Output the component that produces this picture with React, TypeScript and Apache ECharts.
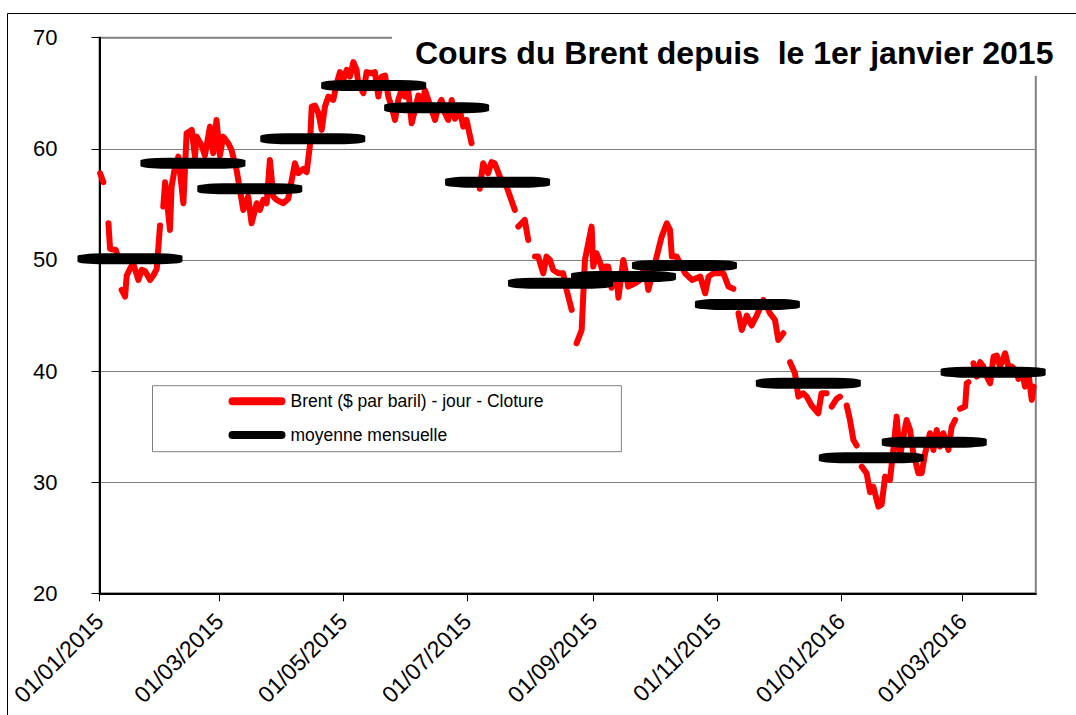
import React, { useEffect, useRef } from "react";
import * as echarts from "echarts";

// ---- data ----
const tickLabels = [
  "01/01/2015", "01/03/2015", "01/05/2015", "01/07/2015",
  "01/09/2015", "01/11/2015", "01/01/2016", "01/03/2016",
];
const axisEndDate = "2016-04-06";

const monthDates = [
  "2015-01-16", "2015-02-16", "2015-03-16", "2015-04-16", "2015-05-16",
  "2015-06-16", "2015-07-16", "2015-08-16", "2015-09-16", "2015-10-16",
  "2015-11-16", "2015-12-16", "2016-01-16", "2016-02-16", "2016-03-16",
];
const monthAvg = [50.1, 58.7, 56.4, 60.9, 65.7, 63.7, 57.0, 47.9, 48.5, 49.5, 46.0, 38.9, 32.2, 33.6, 39.9];

// days since 01/01/2015 and daily closing price (null = gap in the line)
const brentDays = [
  0.3, 1.9, 3, 4.4, 5.2, 8.0, 9.0, 10, 10.9, 12.6, 13.4, 15.0, 16.6, 19.1, 20.8, 22.4, 24.9, 26.5, 28.2, 29.8,
  30.6, 31.4, 32.3, 34.7, 35.5, 37.2, 38.8, 41.3, 42.9, 45.4, 47.0, 47.8, 50.3, 51.9, 54.4, 56.0, 57.6, 59.3,
  60.9, 63.4, 65.0, 67.5, 70.8, 73.2, 74.9, 77.4, 79.0, 80.6, 82.3, 83.9, 85.6, 87.2, 90.5, 92.9, 96.2, 97.9,
  100.4, 102.0, 103.6, 104.5, 106.1, 107.8, 109.4, 111.0, 112.7, 115.1, 116.8, 118.4, 120.0, 121.7, 123.3,
  125.0, 126.6, 127.4, 129.9, 131.5, 134.0, 135.6, 137.3, 138.9, 140.6, 142.2, 143.8, 145.5, 147.1, 148.7,
  150.4, 152.0, 153.7, 155.3, 157.0, 158.6, 160.2, 161.9, 163.5, 165.2, 166.8, 168.4, 170.1, 171.7, 173.4,
  175.0, 177.4, 179.1, 180.7, 183.2, 185, 187.2, 188.9, 191.3, 193.0, 194.6, 197.1, 200.4, 204.5, 205.3,
  206.2, 209.4, 211.1, 213, 214.4, 216.0, 218.5, 220.1, 221.8, 223.4, 225.9, 228.3, 230.0, 232.5, 233.7,
  234.9, 237.4, 239.0, 242.3, 243.1, 244.7, 246.4, 248.0, 248.9, 250.5, 252.1, 254.6, 255.5, 257.9, 259.6,
  260.3, 263.7, 266.1, 268.6, 270.2, 271.9, 273.5, 276.8, 279.3, 280.9, 281.8, 284.2, 288.3, 291.7, 295.8,
  298.2, 299.9, 302.3, 307.2, 309.7, 312.1, 313.4, 314.6, 316.2, 318.7, 321.1, 323.6, 326.9, 330.1, 332.6,
  334.2, 336.7, 338.4, 340.0, 342.4, 344.1, 346.5, 348.2, 350.6, 353.9, 355.5, 358.0, 359.3, 360.5, 362.9,
  364.6, 366, 367.9, 369.5, 371.2, 372.8, 374, 375.3, 377.7, 379.4, 381.0, 383.5, 385.1, 386.8, 389.2,
  390.9, 392.5, 394.1, 395.8, 397.4, 399.1, 400.7, 403.2, 404.8, 406.5, 408.9, 410.6, 412.2, 413.9, 415.5,
  418.0, 419.6, 421.3, 422.5, 423.7, 426.2, 427.0, 427.8, 429, 430.3, 431.9, 433.6, 435.2, 436.9, 438.5,
  440.2, 441.8, 443.4, 445.9, 447.5, 449.2, 450.8, 452.5, 454.1, 455.7, 457.4, 459.0, 459.9,
];
const brentClose = [
  57.8, 57.0, null, 53.3, 51.0, 50.9, 50.3, null, 47.3, 46.7, 48.6, 49.2, 49.7, 48.2, 49.1, 49.0, 48.2, 48.6, 49.2, 53.1,
  null, 54.8, 57.0, 52.7, 56.6, 58.4, 59.3, 55.1, 61.4, 61.7, 59.3, 61.1, 60.3, 59.4, 62.0, 59.6, 62.6, 59.4,
  61.1, 60.5, 59.9, 58.1, 54.5, 55.7, 53.3, 55.1, 54.5, 55.4, 55.1, 59.0, 55.7, 55.4, 55.1, 55.5, 58.7, 57.8,
  58.2, 57.9, 60.3, 63.8, 63.9, 63.2, 61.7, 63.8, 64.7, 64.4, 65.9, 66.9, 66.2, 67.1, 66.5,
  67.8, 67.1, 65.9, 65.0, 66.9, 66.8, 66.9, 64.7, 66.5, 66.6, 64.7, 63.8, 62.6, 64.4, 65.3,
  64.7, 65.3, 62.3, 63.5, 64.8, 63.5, 65.3, 64.4, 63.5, 62.6, 63.8, 64.4, 63.2, 62.6, 64.4,
  62.7, 63.5, 62.0, 62.6, 60.5, null, 56.4, 58.7, 57.8, 58.8, 58.7, 57.5, 56.6, 54.5, null,
  53.0, 53.6, 51.8, null, 50.3, 50.3, 48.8, 50.3, 50.0, 49.1, 48.8, 48.8, 47.3, 45.5, null,
  42.5, 43.7, 50.0, 53.0, 49.4, 50.6, 49.8, 48.8, 49.4, 49.4, 47.5, 48.5, 46.6, 50.0, 48.5,
  47.6, 47.9, 48.2, 49.4, 47.3, 48.5, 49.7, 52.1, 53.3, 52.7, 50.3, 50.3, 48.8, 48.2, 48.5,
  47.0, 48.5, 48.8, 48.8, 47.6, 47.4, null, 45.2, 43.7, 45.0, 44.1, 45.0, 46.4, 45.2, 44.6,
  42.8, 43.4, null, 40.8, 39.8, 37.7, 38.0, 37.7, 36.9, 36.2, 38.0, 38.0, null, 36.8, 37.5,
  37.7, null, 36.9, 35.6, 33.8, 33.3, null, 31.4, 30.8, 29.1, 29.6, 27.8, 28.0, 30.5, 30.2,
  33.0, 35.9, 32.2, 34.1, 35.6, 34.7, 32.6, 30.8, 30.8, 32.6, 34.4, 32.9, 34.7, 33.2, 34.4,
  32.9, 35.0, 35.6, null, 36.6, 36.8, 38.9, 39.0, null, 40.7, 39.5, 40.8, 40.4, 39.5, 38.9,
  41.3, 41.4, 40.4, 41.6, 40.4, 40.4, 40.1, 39.3, 40.1, 38.6, 39.8, 37.4, 38.6,
];

const titleText = "Cours du Brent depuis  le 1er janvier 2015";
const seriesNames = ["Brent ($ par baril) - jour - Cloture", "moyenne mensuelle"];

// ---- helpers ----
const DAY0 = Date.UTC(2015, 0, 1);
const MS_DAY = 86400000;
const dayOfISO = (s: string) => {
  const [y, m, d] = s.split("-").map(Number);
  return (Date.UTC(y, m - 1, d) - DAY0) / MS_DAY;
};
const dayOfFr = (s: string) => {
  const [d, m, y] = s.split("/").map(Number);
  return (Date.UTC(y, m - 1, d) - DAY0) / MS_DAY;
};

const tickDays = tickLabels.map(dayOfFr);
const monthDays = monthDates.map(dayOfISO);
const xMax = dayOfISO(axisEndDate);

const SANS = "'Liberation Sans', Arial, sans-serif";

const pill = (w: number, h: number) => {
  const r = h / 2;
  return `path://M${r},0 L${w - r},0 A${r},${r} 0 0 1 ${w - r},${h} L${r},${h} A${r},${r} 0 0 1 ${r},0 Z`;
};

export default function App() {
  const ref = useRef<HTMLDivElement>(null);

  useEffect(() => {
    document.body.style.margin = "0";
    if (!ref.current) return;
    const chart = echarts.init(ref.current, null, { renderer: "svg" });

    const option: any = {
      animation: false,
      backgroundColor: "#ffffff",
      grid: {
        left: 99.5,
        top: 37.7,
        right: 40.2,
        bottom: 121.7,
        show: true,
        borderColor: "#808080",
        borderWidth: 2,
        backgroundColor: "transparent",
      },
      xAxis: {
        type: "value",
        min: 0,
        max: xMax,
        axisLine: { show: true, lineStyle: { color: "#000", width: 2 } },
        axisTick: { show: true, length: 8, customValues: tickDays, lineStyle: { color: "#000", width: 1 } },
        axisLabel: {
          customValues: tickDays,
          rotate: 45,
          margin: 24,
          fontSize: 23,
          fontFamily: SANS,
          color: "#000",
          formatter: (v: number) => {
            const i = tickDays.indexOf(v);
            return i >= 0 ? tickLabels[i] : "";
          },
        },
        splitLine: { show: false },
      },
      yAxis: {
        type: "value",
        min: 20,
        max: 70,
        interval: 10,
        axisLine: { show: true, lineStyle: { color: "#000", width: 2 } },
        axisTick: { show: true, length: 8, lineStyle: { color: "#000", width: 1 } },
        axisLabel: { margin: 42, fontSize: 22, fontFamily: SANS, color: "#000" },
        splitLine: { show: true, lineStyle: { color: "#808080", width: 1 } },
      },
      legend: {
        orient: "vertical",
        left: 152.5,
        top: 385.7,
        padding: [6.5, 78, 7.7, 76],
        borderColor: "#808080",
        borderWidth: 1,
        backgroundColor: "#ffffff",
        itemGap: 15.8,
        itemWidth: 57,
        itemHeight: 8,
        textStyle: { fontSize: 17.5, fontFamily: SANS, color: "#000" },
        data: [
          { name: seriesNames[0], icon: pill(57, 8), itemStyle: { color: "#ff0000", opacity: 1 } },
          { name: seriesNames[1], icon: pill(57, 8), itemStyle: { color: "#000000", opacity: 1 } },
        ],
      },
      series: [
        {
          name: seriesNames[0],
          type: "line",
          data: brentDays.map((d, i) => [d, brentClose[i] == null ? "-" : brentClose[i]]),
          showSymbol: false,
          symbol: "none",
          connectNulls: false,
          lineStyle: { color: "#ff0000", width: 6, cap: "round", join: "round" },
          itemStyle: { color: "#ff0000" },
          z: 3,
        },
        {
          name: seriesNames[1],
          type: "scatter",
          data: monthDays.map((d, i) => [d, monthAvg[i]]),
          symbol: "roundRect",
          symbolSize: [105, 11],
          itemStyle: { color: "#000000", opacity: 1 },
          clip: false,
          z: 4,
        },
      ],
      graphic: [
        {
          type: "rect",
          z: 0,
          silent: true,
          shape: { x: 7.5, y: 13.5, width: 1100, height: 800 },
          style: { fill: "none", stroke: "#000", lineWidth: 1 },
        },
        {
          type: "rect",
          z: 50,
          silent: true,
          shape: { x: 392, y: 15, width: 675, height: 61 },
          style: { fill: "#ffffff", stroke: "none" },
        },
        {
          type: "text",
          z: 51,
          x: 415,
          y: 53.3,
          style: {
            text: titleText,
            fontSize: 32,
            fontWeight: "bold",
            fontFamily: SANS,
            fill: "#000",
            verticalAlign: "middle",
            align: "left",
          },
        },
      ],
    };

    chart.setOption(option);
    return () => chart.dispose();
  }, []);

  return <div ref={ref} style={{ width: 1076, height: 715 }} />;
}
